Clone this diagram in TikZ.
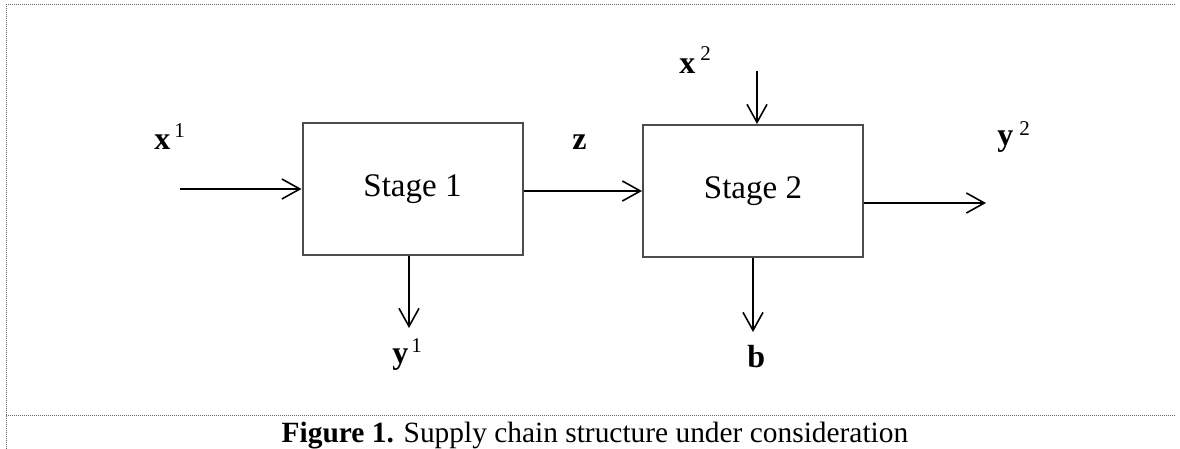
\documentclass[tikz,border=0pt]{standalone}
\usepackage{fontspec}
\setmainfont{Liberation Serif}
\usetikzlibrary{arrows.meta}
\tikzset{
  stagebox/.style={draw=black!70, line width=1pt, minimum width=110pt, minimum height=66pt, inner sep=0pt, font=\fontsize{16.5}{18}\selectfont},
  arr/.style={line width=1pt, -{Straight Barb[length=9pt, width=10pt, line width=0.8pt]}},
  lbl/.style={anchor=base west, inner sep=0pt, font=\fontsize{16}{18}\selectfont\bfseries},
  supnum/.style={anchor=base west, inner sep=0pt, font=\fontsize{10.5}{12}\selectfont},
  framestyle/.style={draw=black!60, line width=0.5pt, dash pattern=on 0.5pt off 0.5pt},
  captext/.style={anchor=base, inner sep=0pt, font=\fontsize{14.7}{17}\selectfont}
}
\begin{document}
\begin{tikzpicture}[x=0.5pt, y=-0.5pt]
\useasboundingbox (0,0) rectangle (1180,449);
% frame
\draw[framestyle] (6,449) -- (6,5) -- (1176,5);
\draw[framestyle] (6,415) -- (1176,415);
% boxes
\node[stagebox] (s1) at (412.5,189) {Stage 1};
\node[stagebox] (s2) at (753,191) {Stage 2};
% arrow ends
\coordinate (x1s) at (180,189);
\coordinate (x2s) at (757,71);
\coordinate (y2e) at (986,203);
\coordinate (y1e) at (409,328);
\coordinate (be) at (753,332);
\draw[arr] (x1s) -- (s1.west);
\draw[arr] (s1.east |- s2.west) -- (s2.west);
\draw[arr] (x2s) -- (x2s |- s2.north);
\draw[arr] (s2.east |- y2e) -- (y2e);
\draw[arr] (s1.south -| y1e) -- (y1e);
\draw[arr] (s2.south) -- (be);
% labels
\node[lbl] (lx1) at (154,150) {x};
\node[supnum] (lx1s) at (174,138) {1};
\node[lbl] (lz) at (572,150) {z};
\node[lbl] (lx2) at (679,74) {x};
\node[supnum] (lx2s) at (700,61) {2};
\node[lbl] (ly2) at (997,146) {y};
\node[supnum] (ly2s) at (1019,136) {2};
\node[lbl] (ly1) at (392,364) {y};
\node[supnum] (ly1s) at (411,352) {1};
\node[lbl] (lb) at (747,367) {b};
% caption
\node[captext] (caption) at (595,443) {\textbf{Figure 1.} Supply chain structure under consideration};
\end{tikzpicture}
\end{document}
